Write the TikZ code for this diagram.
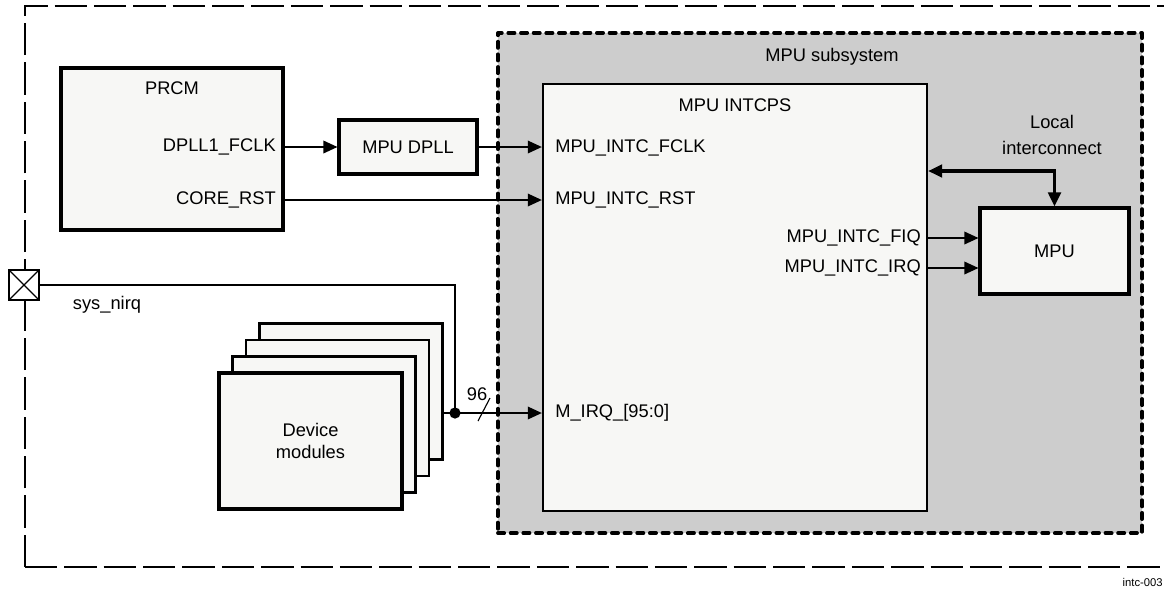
\documentclass[tikz,border=0pt]{standalone}
\usepackage{fontspec}
\setmainfont{Liberation Sans}
\usetikzlibrary{arrows.meta,calc}
\definecolor{boxfill}{RGB}{247,247,245}
\definecolor{subfill}{RGB}{205,205,205}

\begin{document}
\begin{tikzpicture}[x=0.025cm,y=-0.025cm,>={Triangle[length=10pt,width=9pt]},
  lbl/.style={font=\fontsize{13}{15}\selectfont,inner sep=0pt,text height=9.5pt,text depth=2.5pt},
  blk/.style={draw,line width=2.2pt,fill=boxfill,inner sep=0pt,font=\fontsize{13}{15}\selectfont},
  sig/.style={->,line width=1pt}]
\useasboundingbox (0,0) rectangle (1164,588);
\clip (0,0) rectangle (1164,588);
% outer boundary, runs off the right edge
\draw[line width=1.5pt,dash pattern=on 23pt off 5pt] (25,567) -- (25,6) -- (1200,6);
\draw[line width=1.5pt,dash pattern=on 23pt off 5pt] (25,567) -- (1200,567);
% MPU subsystem
\node[draw,fill=subfill,line width=2.6pt,line cap=round,line join=round,dash pattern=on 4.5pt off 4.5pt,
  minimum width=16.1cm,minimum height=12.5cm] (mpuss) at (820,283) {};
\node[lbl] at (832,57) {MPU subsystem};
% MPU INTCPS with its ports
\node[blk,line width=1.6pt,minimum width=9.6cm,minimum height=10.675cm] (intc) at (735,297.5) {};
\node[lbl] at (735,107) {MPU INTCPS};
\node[lbl,anchor=west] (infclk) at (555,148) {MPU\_INTC\_FCLK};
\node[lbl,anchor=west] (inrst) at (555,200) {MPU\_INTC\_RST};
\node[lbl,anchor=west] (inirq) at (555,413) {M\_IRQ\_[95:0]};
\node[lbl,anchor=east] (outfiq) at (921,238) {MPU\_INTC\_FIQ};
\node[lbl,anchor=east] (outirq) at (921,268) {MPU\_INTC\_IRQ};
% MPU
\node[blk,minimum width=3.725cm,minimum height=2.15cm] (mpu) at (1054.5,251) {MPU};
% PRCM
\node[blk,minimum width=5.55cm,minimum height=4.05cm] (prcm) at (172,149) {};
\node[lbl] at (172,90) {PRCM};
\node[lbl,anchor=east] (dpllout) at (276,147) {DPLL1\_FCLK};
\node[lbl,anchor=east] (rstout) at (276,200) {CORE\_RST};
% MPU DPLL
\node[blk,minimum width=3.45cm,minimum height=1.35cm] (dpll) at (408,147) {MPU DPLL};
% device modules, stacked
\foreach \i in {3,2,1}
  \node[blk,line width=1.5pt,minimum width=4.575cm,minimum height=3.4cm] (dev\i) at (310.5+13.5*\i,441-16.5*\i) {};
\node[blk,align=center,minimum width=4.575cm,minimum height=3.4cm] (dev0) at (310.5,441) {Device\\modules};
% sys_nirq pad
\node[draw,fill=white,line width=0.8pt,minimum size=0.75cm,inner sep=0pt] (pad) at (24,285) {};
\draw[line width=0.8pt] (pad.north west) -- (pad.south east) (pad.north east) -- (pad.south west);
\node[lbl] at (107,305) {sys\_nirq};
% interrupt lines
\coordinate (junc) at (455,413);
\draw[line width=1.2pt] (pad.east) -| (junc);
\draw[sig] (dev3.east |- junc) -- (intc.west |- junc);
\fill (junc) circle (4pt);
\draw[line width=0.8pt] ($(junc)+(23,8)$) -- ($(junc)+(35,-15)$);
\node[lbl] at (477,396) {96};
% clock and reset
\draw[sig] (prcm.east |- dpllout) -- (dpll.west);
\draw[sig] (dpll.east) -- (intc.west |- dpll.east);
\draw[sig] (prcm.east |- rstout) -- (intc.west |- inrst);
% FIQ and IRQ to MPU
\draw[sig] (intc.east |- outfiq) -- (mpu.west |- outfiq);
\draw[sig] (intc.east |- outirq) -- (mpu.west |- outirq);
% local interconnect
\coordinate (bus) at (1054.5,171);
\draw[line width=2.2pt,<->] (intc.east |- bus) -- (bus) -- (mpu.north);
\node[font=\fontsize{13}{18}\selectfont,align=center] at (1052,135) {Local\\interconnect};
\node[font=\fontsize{8}{10}\selectfont,anchor=east,inner sep=0pt] at (1163,582) {intc-003};
\end{tikzpicture}
\end{document}
